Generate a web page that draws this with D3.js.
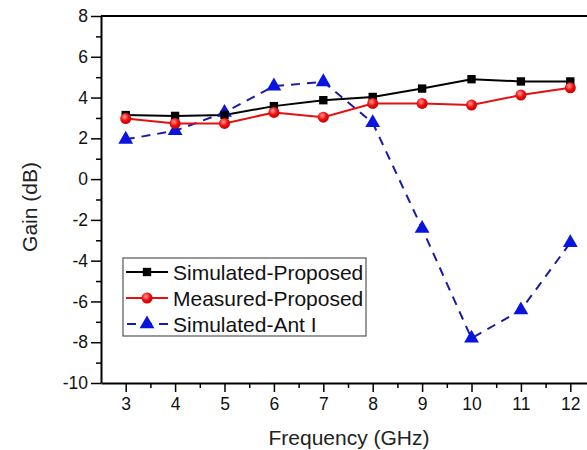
<!DOCTYPE html>
<html>
<head>
<meta charset="utf-8">
<script src="https://cdn.jsdelivr.net/npm/d3@7"></script>
<style>
  body { margin: 0; background: #fff; }
  svg { display: block; font-family: "Liberation Sans", Arial, sans-serif; }
</style>
</head>
<body>
<div id="chart-area"></div>
<script>
// data
var freq = [3, 4, 5, 6, 7, 8, 9, 10, 11, 12];
var simProposed = [3.14, 3.1, 3.15, 3.58, 3.87, 4.03, 4.44, 4.9, 4.79, 4.79];
var measProposed = [2.97, 2.73, 2.73, 3.27, 3.04, 3.71, 3.71, 3.63, 4.12, 4.48];
var simAnt = [1.95, 2.37, 3.27, 4.56, 4.77, 2.76, -2.42, -7.81, -6.42, -3.12];
var yTicks = [-10, -8, -6, -4, -2, 0, 2, 4, 6, 8];
var seriesNames = ["Simulated-Proposed", "Measured-Proposed", "Simulated-Ant I"];

var W = 587, H = 450;
var margin = {top: 16, left: 101};
var plotW = 495;   // frame runs past the right edge of the picture
var plotH = 367;

var svg = d3.select("#chart-area")
    .append("svg")
        .attr("width", W)
        .attr("height", H);

var defs = svg.append("defs");
var grad = defs.append("radialGradient")
    .attr("id", "redBall")
    .attr("cx", "40%").attr("cy", "35%").attr("r", "65%");
grad.append("stop").attr("offset", "0%").attr("stop-color", "#ff9a9a");
grad.append("stop").attr("offset", "55%").attr("stop-color", "#ee1111");
grad.append("stop").attr("offset", "100%").attr("stop-color", "#cc0000");

var g = svg.append("g")
    .attr("transform", "translate(" + margin.left + ", " + margin.top + ")");

var x = d3.scaleLinear()
    .domain([2.5, 12.52])
    .range([0, plotW]);

var y = d3.scaleLinear()
    .domain([-10, 8])
    .range([plotH, 0]);

// top frame line
g.append("line")
    .attr("x1", 0).attr("x2", plotW)
    .attr("y1", 0).attr("y2", 0)
    .attr("stroke", "#000").attr("stroke-width", 2);

// minor ticks
var xMinor = d3.range(3.5, 12.6, 1);
g.append("g")
    .attr("transform", "translate(0, " + plotH + ")")
    .call(d3.axisBottom(x).tickValues(xMinor).tickSize(5).tickFormat(""))
    .call((a) => a.select(".domain").remove())
    .selectAll("line").attr("stroke-width", 1.5);

var yMinor = d3.range(-9, 8, 2);
g.append("g")
    .call(d3.axisLeft(y).tickValues(yMinor).tickSize(5).tickFormat(""))
    .call((a) => a.select(".domain").remove())
    .selectAll("line").attr("stroke-width", 1.5);

// major axes
var bottomAxis = g.append("g")
    .attr("transform", "translate(0, " + plotH + ")")
    .call(d3.axisBottom(x).tickValues(freq).tickSize(9).tickSizeOuter(0).tickPadding(6));
bottomAxis.select(".domain").attr("stroke-width", 2);
bottomAxis.selectAll(".tick line").attr("stroke-width", 1.5);
bottomAxis.selectAll("text").attr("font-size", "17.5px").attr("fill", "#111")
    .attr("font-family", "Liberation Sans, Arial, sans-serif");

var leftAxis = g.append("g")
    .call(d3.axisLeft(y).tickValues(yTicks).tickSize(10).tickSizeOuter(0).tickPadding(3)
        .tickFormat((d) => String(d)));
leftAxis.select(".domain").attr("stroke-width", 2);
leftAxis.selectAll(".tick line").attr("stroke-width", 1.5);
leftAxis.selectAll("text").attr("font-size", "17.5px").attr("fill", "#111")
    .attr("font-family", "Liberation Sans, Arial, sans-serif");

// axis labels
svg.append("text")
    .attr("x", 349)
    .attr("y", 445)
    .attr("font-size", "21px")
    .attr("text-anchor", "middle")
    .attr("fill", "#222")
    .text("Frequency (GHz)");

svg.append("text")
    .attr("transform", "translate(37, 207) rotate(-90)")
    .attr("font-size", "21px")
    .attr("text-anchor", "middle")
    .attr("fill", "#222")
    .text("Gain (dB)");

// lines
function makeLine(vals) {
    return d3.line()
        .x((d, i) => x(freq[i]))
        .y((d) => y(d))(vals);
}

g.append("path")
    .attr("d", makeLine(simAnt))
    .attr("fill", "none")
    .attr("stroke", "#1a1aaa")
    .attr("stroke-width", 2)
    .attr("stroke-dasharray", "9,7");

g.append("path")
    .attr("d", makeLine(measProposed))
    .attr("fill", "none")
    .attr("stroke", "#e31010")
    .attr("stroke-width", 2);

g.append("path")
    .attr("d", makeLine(simProposed))
    .attr("fill", "none")
    .attr("stroke", "#000")
    .attr("stroke-width", 2);

// markers
var tri = d3.symbol().type(d3.symbolTriangle).size(95);
var sq = d3.symbol().type(d3.symbolSquare).size(70);

g.selectAll(".tri").data(simAnt).enter()
    .append("path")
    .attr("class", "tri")
    .attr("d", tri)
    .attr("transform", (d, i) => "translate(" + x(freq[i]) + ", " + y(d) + ")")
    .attr("fill", "#0a14e0");

g.selectAll(".sq").data(simProposed).enter()
    .append("path")
    .attr("class", "sq")
    .attr("d", sq)
    .attr("transform", (d, i) => "translate(" + x(freq[i]) + ", " + y(d) + ")")
    .attr("fill", "#000");

g.selectAll(".dot").data(measProposed).enter()
    .append("circle")
    .attr("class", "dot")
    .attr("cx", (d, i) => x(freq[i]))
    .attr("cy", (d) => y(d))
    .attr("r", 5.5)
    .attr("fill", "url(#redBall)");

// legend
var legend = svg.append("g").attr("transform", "translate(123, 258)");
legend.append("rect")
    .attr("width", 243).attr("height", 78)
    .attr("fill", "#fff")
    .attr("stroke", "#555").attr("stroke-width", 1.2);

var rowY = [14, 40, 66];
var legColor = ["#000", "#e31010", "#1a1aaa"];
seriesNames.forEach((name, i) => {
    var row = legend.append("g").attr("transform", "translate(0, " + rowY[i] + ")");
    row.append("line")
        .attr("x1", 3).attr("x2", 45)
        .attr("stroke", legColor[i]).attr("stroke-width", 2)
        .attr("stroke-dasharray", i == 2 ? "9,7" : null)
        .attr("stroke-dashoffset", i == 2 ? -1 : 0);
    if (i == 0) {
        row.append("path").attr("d", sq).attr("transform", "translate(24, 0)").attr("fill", "#000");
    } else if (i == 1) {
        row.append("circle").attr("cx", 24).attr("r", 5.5).attr("fill", "url(#redBall)");
    } else {
        row.append("path").attr("d", tri).attr("transform", "translate(24, 0)").attr("fill", "#0a14e0");
    }
    row.append("text")
        .attr("x", 50)
        .attr("dy", "0.36em")
        .attr("font-size", "21px")
        .attr("fill", "#111")
        .text(name);
});
</script>
</body>
</html>
